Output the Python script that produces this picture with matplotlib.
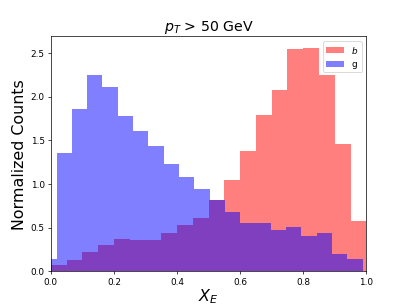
import matplotlib
matplotlib.use("Agg")
import matplotlib.pyplot as plt

# red histogram (b): 20 bins of width 0.05 on [0, 1]
b_edges = [0.00, 0.05, 0.10, 0.15, 0.20, 0.25, 0.30, 0.35, 0.40, 0.45, 0.50,
           0.55, 0.60, 0.65, 0.70, 0.75, 0.80, 0.85, 0.90, 0.95, 1.00]
b_counts = [0.075, 0.134, 0.218, 0.306, 0.375, 0.360, 0.360, 0.443, 0.535, 0.612,
            0.822, 1.044, 1.380, 1.785, 2.080, 2.546, 2.562, 2.244, 1.460, 0.573]

# blue histogram (g): its own bin edges
g_edges = [-0.0304, 0.0181, 0.0666, 0.1151, 0.1636, 0.2121, 0.2606, 0.3091,
           0.3576, 0.4061, 0.4546, 0.5031, 0.5516, 0.6001, 0.6486, 0.6971,
           0.7456, 0.7941, 0.8426, 0.8911, 0.9396, 0.9883]
g_counts = [0.142, 1.357, 1.862, 2.252, 2.106, 1.774, 1.609, 1.433, 1.231, 1.086,
            0.945, 0.822, 0.677, 0.550, 0.554, 0.478, 0.512, 0.405, 0.443, 0.200, 0.141]

labels = ["$b$", "g"]

DPI = 407 / 6.4
fig, ax = plt.subplots(figsize=(6.4, 4.8), dpi=DPI)
ax.hist(b_edges[:-1], bins=b_edges, weights=b_counts, color="red", alpha=0.5, label=labels[0])
ax.hist(g_edges[:-1], bins=g_edges, weights=g_counts, color="blue", alpha=0.5, label=labels[1])
ax.set_xlim(0, 1)
ax.set_title("$p_T$ > 50 GeV", fontsize=16)
ax.set_xlabel("$X_E$", fontsize=18, labelpad=0)
ax.set_ylabel("Normalized Counts", fontsize=18)
ax.legend(loc="upper right")
fig.savefig("out.png", dpi=DPI)
